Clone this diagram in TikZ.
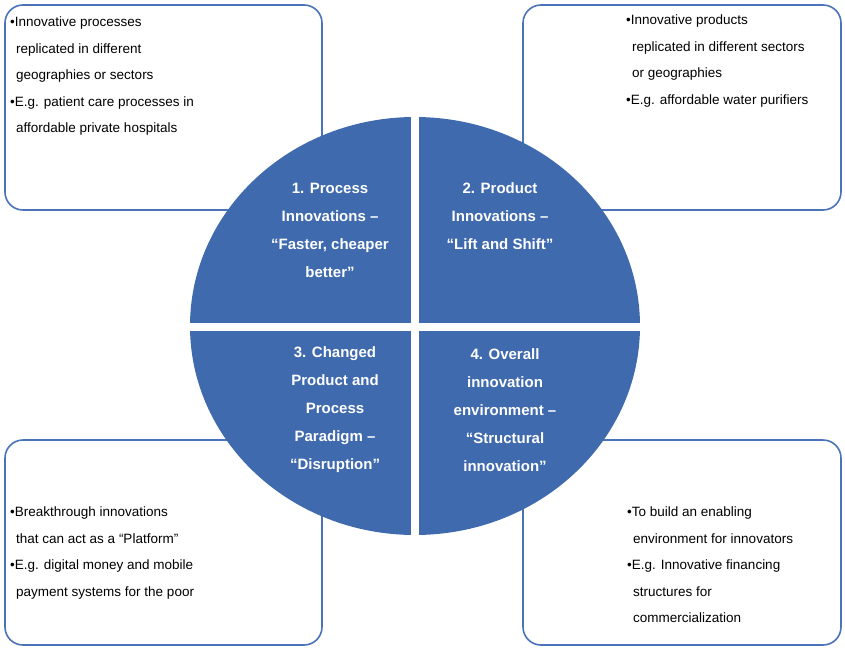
\documentclass[tikz,border=0pt]{standalone}
\usepackage{fontspec}
\setmainfont{Liberation Sans}
\definecolor{quadblue}{RGB}{63,106,174}
\definecolor{boxblue}{RGB}{75,115,185}
\tikzset{
  outer box/.style={draw=boxblue, line width=1.6pt, fill=white, rounded corners=18pt},
  quad text/.style={text=white, font=\fontsize{15}{28}\selectfont\bfseries, align=center},
  box text/.style={font=\fontsize{13.5}{26.5}\selectfont, align=left, anchor=north west, inner sep=0pt}
}
\begin{document}
\begin{tikzpicture}[x=1pt,y=-1pt]
  \useasboundingbox (0,0) rectangle (845,650);
  % corner boxes
  \draw[outer box] (5,5) rectangle (322,210);
  \draw[outer box] (523,5) rectangle (841,210);
  \draw[outer box] (5,440) rectangle (322,645);
  \draw[outer box] (523,440) rectangle (841,645);
  % circle in four quadrants
  \fill[quadblue] (415,326) ellipse [x radius=225, y radius=209];
  \draw[white, line width=8pt] (415,105) -- (415,545);
  \draw[white, line width=8pt] (180,327) -- (650,327);
  \node[quad text] (q1) at (330,230) {1. Process\\Innovations --\\“Faster, cheaper\\better”};
  \node[quad text] (q2) at (500,216) {2. Product\\Innovations --\\“Lift and Shift”};
  \node[quad text] (q3) at (335,410) {3. Changed\\Product and\\Process\\Paradigm --\\“Disruption”};
  \node[quad text] (q4) at (505,410) {4. Overall\\innovation\\environment --\\“Structural\\innovation”};
  % box texts
  \node[box text] (t1) at (10,17) {\textbullet Innovative processes\\\hspace{6pt}replicated in different\\\hspace{6pt}geographies or sectors\\\textbullet E.g. patient care processes in\\\hspace{6pt}affordable private hospitals};
  \node[box text] (t2) at (626,15) {\textbullet Innovative products\\\hspace{6pt}replicated in different sectors\\\hspace{6pt}or geographies\\\textbullet E.g. affordable water purifiers};
  \node[box text] (t3) at (10,507) {\textbullet Breakthrough innovations\\\hspace{6pt}that can act as a “Platform”\\\textbullet E.g. digital money and mobile\\\hspace{6pt}payment systems for the poor};
  \node[box text] (t4) at (627,507) {\textbullet To build an enabling\\\hspace{6pt}environment for innovators\\\textbullet E.g. Innovative financing\\\hspace{6pt}structures for\\\hspace{6pt}commercialization};
\end{tikzpicture}
\end{document}
